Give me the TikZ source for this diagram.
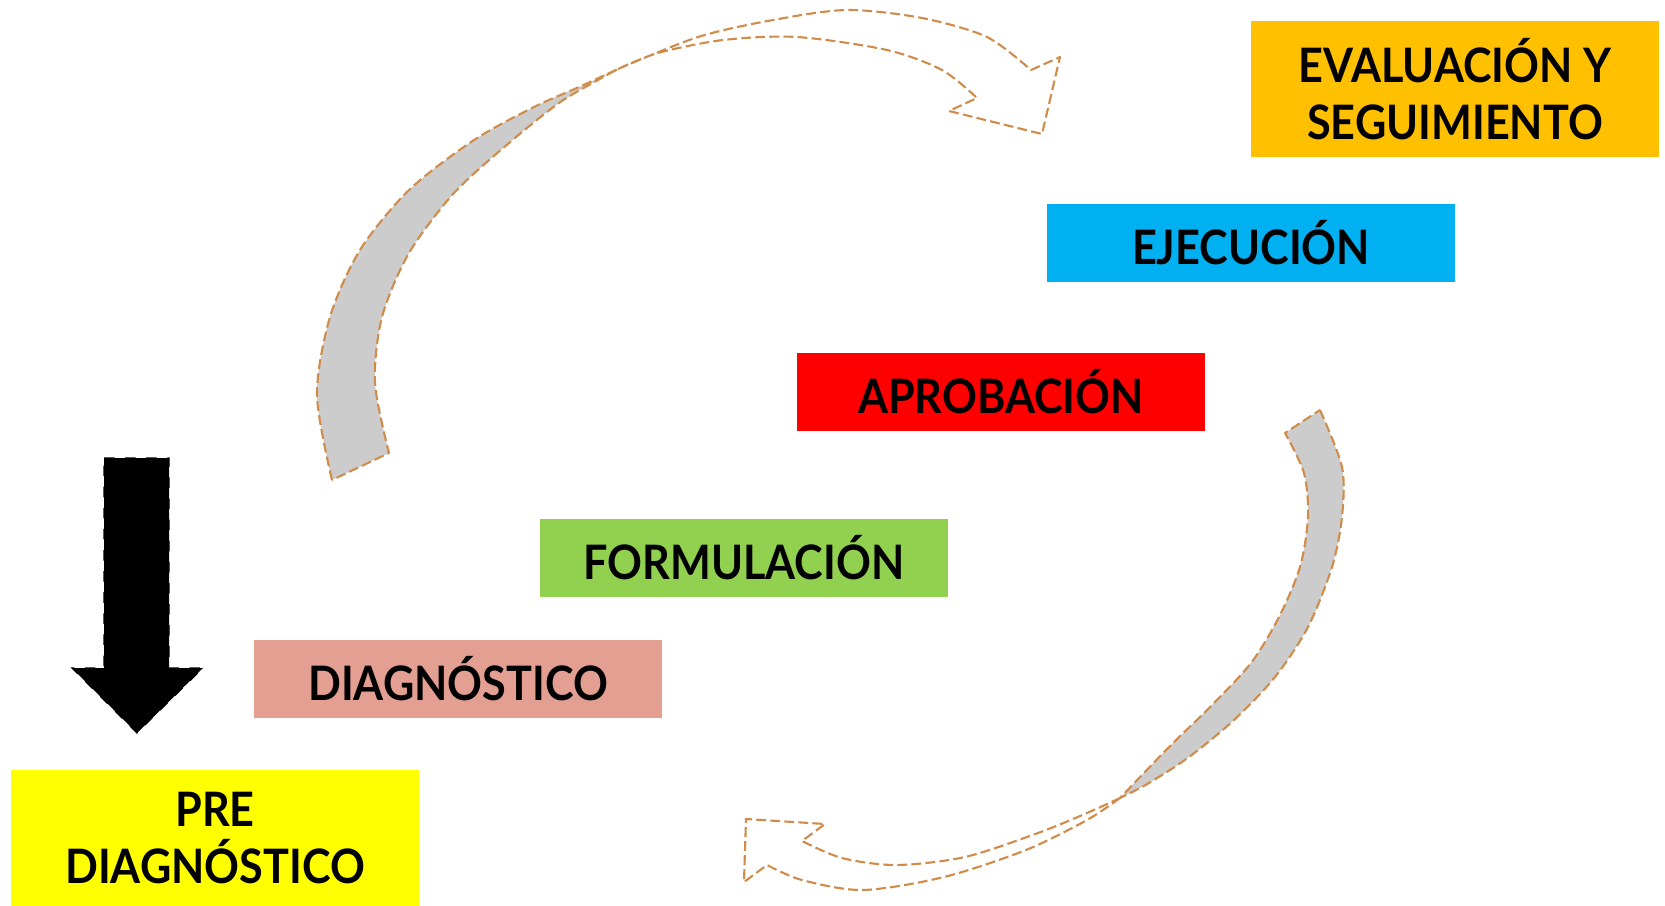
\documentclass[tikz,border=0pt]{standalone}
\usepackage{fontspec}
\setmainfont{Lato}[FakeStretch=0.91]
\usetikzlibrary{calc}

\definecolor{evalcol}{HTML}{FFC000}
\definecolor{ejeccol}{HTML}{00B0F0}
\definecolor{aprobcol}{HTML}{FF0000}
\definecolor{formcol}{HTML}{92D050}
\definecolor{diagcol}{HTML}{E3A092}
\definecolor{precol}{HTML}{FFFF00}
\definecolor{bordecol}{HTML}{D08C4A}
\definecolor{grisfill}{HTML}{CCCCCC}

\tikzset{
  fase/.style={minimum width=4.08cm, minimum height=0.77cm, inner sep=0pt, align=center,
    font=\fontsize{13.5}{16}\selectfont\bfseries},
  fasealta/.style={fase, minimum height=1.35cm},
  cinta/.style={draw=bordecol, line width=0.6pt, dash pattern=on 2.8pt off 1.2pt, line join=round}
}

\begin{document}
\begin{tikzpicture}[x=0.01cm, y=-0.01cm]
\useasboundingbox (0,0) rectangle (1665,905);

% Fases
      \node[fasealta, fill=evalcol] (eval) at (1455,89) {EVALUACIÓN Y\\SEGUIMIENTO};
      \node[fase, fill=ejeccol] (ejec) at (1251,243) {EJECUCIÓN};
      \node[fase, fill=aprobcol] (aprob) at (1001,392) {APROBACIÓN};
      \node[fase, fill=formcol] (form) at (744,558) {FORMULACIÓN};
      \node[fase, fill=diagcol] (diag) at (458,679) {DIAGNÓSTICO};
      \node[fasealta, fill=precol] (pre) at (215,838) {PRE\\DIAGNÓSTICO};

% Flecha curva superior
      \draw[cinta, fill=grisfill] plot[smooth] coordinates {(332,480) (317,395) (330,317) (360,250) (409,190) (474,140) (534,107) (579,87) (618,69)}
        -- plot[smooth] coordinates {(618,69) (598,80) (559,103) (509,143) (454,193) (409,253) (382,317) (375,383) (389,453)} -- cycle;
      \draw[cinta, fill=white] plot[smooth] coordinates {(618,69) (698,37) (773,20) (847,10) (922,18) (987,37) (1031,70)}
        -- (1060,57) -- (1042,134) -- (949,111) -- (977,98)
        -- plot[smooth] coordinates {(977,98) (942,70) (887,50) (797,37) (723,40) (658,53) (618,69)};

% Flecha curva inferior
      \draw[cinta, fill=grisfill] plot[smooth] coordinates {(1320,410) (1342,467) (1342,517) (1332,567) (1308,627) (1275,677) (1234,720) (1189,757) (1149,783) (1120,798)}
        -- plot[smooth] coordinates {(1120,798) (1169,747) (1210,707) (1251,663) (1279,617) (1300,567) (1308,517) (1304,473) (1285,433)} -- cycle;
      \draw[cinta, fill=white] plot[smooth] coordinates {(1120,798) (1087,820) (1026,850) (944,877) (863,890) (802,880) (767,865)}
        -- (744,882) -- (746,819) -- (825,824) -- (802,841)
        -- plot[smooth] coordinates {(802,841) (842,858) (896,865) (965,857) (1038,833) (1087,813) (1120,798)};

% Flecha negra
      \draw[fill=black, dashed, line width=0.3pt] (104,458) -- (169,458) -- (169,668) -- (203,668) -- (137,733) -- (72,668) -- (104,668) -- cycle;

    \end{tikzpicture}
\end{document}
